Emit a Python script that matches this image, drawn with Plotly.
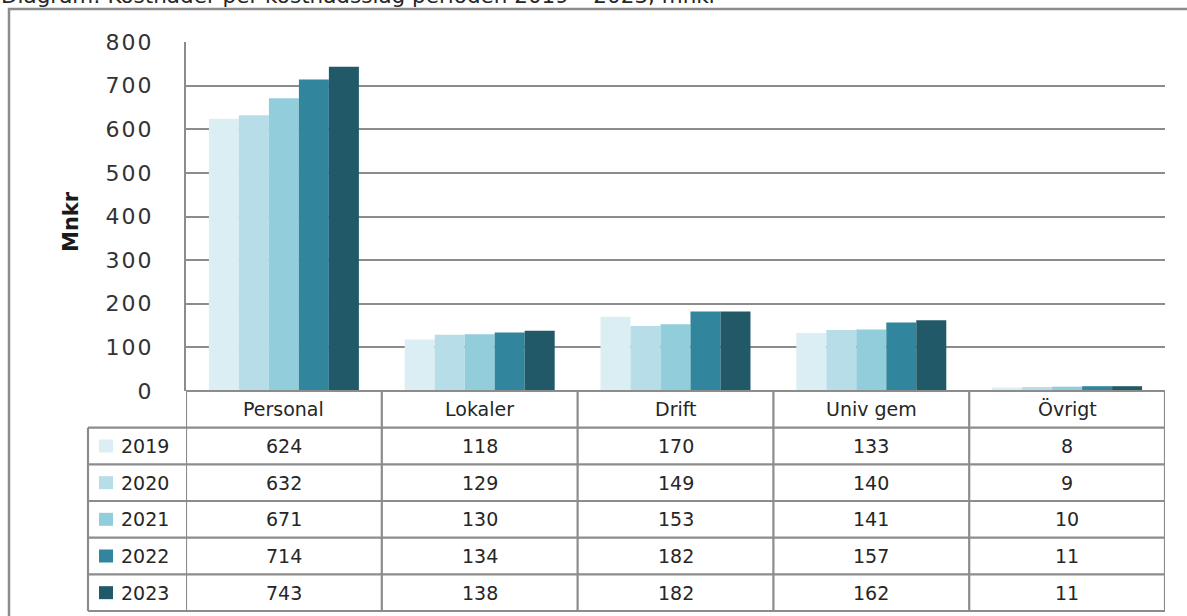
import plotly.graph_objects as go

# Cost categories and yearly costs (Mnkr)
categories = ["Personal", "Lokaler", "Drift", "Univ gem", "Övrigt"]
years = ["2019", "2020", "2021", "2022", "2023"]
cost_2019 = [624, 118, 170, 133, 8]
cost_2020 = [632, 129, 149, 140, 9]
cost_2021 = [671, 130, 153, 141, 10]
cost_2022 = [714, 134, 182, 157, 11]
cost_2023 = [743, 138, 182, 162, 11]
series = [cost_2019, cost_2020, cost_2021, cost_2022, cost_2023]
colors = ["#DAEEF3", "#B7DEE8", "#92CDDC", "#31859C", "#215968"]
y_ticks = [0, 100, 200, 300, 400, 500, 600, 700, 800]

TITLE = "Diagram: Kostnader per kostnadsslag perioden 2019 – 2023, mnkr"

W, H = 1187, 616
L, R, T, B = 186, 22, 42, 225
PW, PH = W - L - R, H - T - B
GRID = "#8c8c8c"
TXT = "#262626"
FONT = "DejaVu Sans"


def px_x(px):
    return (px - L) / PW


def px_y(py):
    return (H - B - py) / PH


fig = go.Figure()
for yr, vals, col in zip(years, series, colors):
    fig.add_bar(x=list(range(len(categories))), y=vals, name=yr,
                marker=dict(color=col, line=dict(width=0)))

shapes = []
annotations = []

# outer frame
shapes.append(dict(type="rect", xref="paper", yref="paper",
                   x0=px_x(9), x1=px_x(1210), y0=px_y(640), y1=px_y(9),
                   line=dict(color=GRID, width=2.5), fillcolor="rgba(0,0,0,0)", layer="below"))

# data table beneath the plot
row_h = (611 - 391) / 6
row_edges = [391 + row_h * i for i in range(7)]
n = len(categories)
line = dict(color=GRID, width=2.2)

# horizontal rules
shapes.append(dict(type="line", xref="x", yref="paper", x0=-0.5, x1=n - 0.5,
                   y0=px_y(row_edges[0]), y1=px_y(row_edges[0]), line=line))
for ye in row_edges[1:]:
    shapes.append(dict(type="line", xref="paper", yref="paper", x0=px_x(88), x1=1,
                       y0=px_y(ye), y1=px_y(ye), line=line))
# vertical rules
shapes.append(dict(type="line", xref="paper", yref="paper", x0=px_x(88), x1=px_x(88),
                   y0=px_y(row_edges[1]), y1=px_y(row_edges[-1]), line=line))
for k in range(n + 1):
    shapes.append(dict(type="line", xref="x", yref="paper", x0=k - 0.5, x1=k - 0.5,
                       y0=px_y(row_edges[0]), y1=px_y(row_edges[-1]), line=line))

cell_font = dict(family=FONT, size=19, color=TXT)

# header row: category names
hdr_c = (row_edges[0] + row_edges[1]) / 2
for i, c in enumerate(categories):
    annotations.append(dict(x=i, y=px_y(hdr_c), xref="x", yref="paper", text=c,
                            yanchor="middle", showarrow=False, font=cell_font))

# one row per year: legend key, label, values
for r, (yr, vals, col) in enumerate(zip(years, series, colors)):
    yc = (row_edges[r + 1] + row_edges[r + 2]) / 2
    shapes.append(dict(type="rect", xref="paper", yref="paper",
                       x0=px_x(99), x1=px_x(113), y0=px_y(yc + 6.5), y1=px_y(yc - 6.5),
                       fillcolor=col, line=dict(width=0)))
    annotations.append(dict(x=px_x(119), y=px_y(yc), xref="paper", yref="paper",
                            xanchor="left", yanchor="middle", text=yr, showarrow=False,
                            font=cell_font))
    for i, v in enumerate(vals):
        annotations.append(dict(x=i, y=px_y(yc), xref="x", yref="paper", text=str(v),
                                yanchor="middle", showarrow=False, font=cell_font))

# heading at the top edge
annotations.append(dict(x=px_x(-1), y=px_y(10), xref="paper", yref="paper", xanchor="left",
                        yanchor="bottom", text=TITLE, showarrow=False,
                        font=dict(family=FONT, size=21.5, color=TXT)))

# y-axis title
annotations.append(dict(x=px_x(57), y=px_y(222), xref="paper", yref="paper", text="<b>Mnkr</b>",
                        textangle=-90, showarrow=False,
                        font=dict(family=FONT, size=21, color="#1a1a1a")))

fig.update_layout(
    width=W, height=H,
    margin=dict(l=L, r=R, t=T, b=B, pad=0),
    paper_bgcolor="white", plot_bgcolor="white",
    barmode="group", bargap=0.234, bargroupgap=0,
    showlegend=False,
    shapes=shapes, annotations=annotations,
    xaxis=dict(range=[-0.5, n - 0.5], showticklabels=False, showgrid=False,
               zeroline=False, showline=False, fixedrange=True),
    yaxis=dict(range=[0, 800], tickmode="array", tickvals=y_ticks,
               ticktext=[f'<span style="letter-spacing:2px">{t}</span>' for t in y_ticks],
               showgrid=True, gridcolor=GRID, gridwidth=2.2,
               zeroline=False, showline=True, linecolor=GRID, linewidth=2.2,
               ticks="", ticklabelstandoff=26,
               tickfont=dict(family=FONT, size=22, color="#333333")),
)

fig.write_html("out.html")
